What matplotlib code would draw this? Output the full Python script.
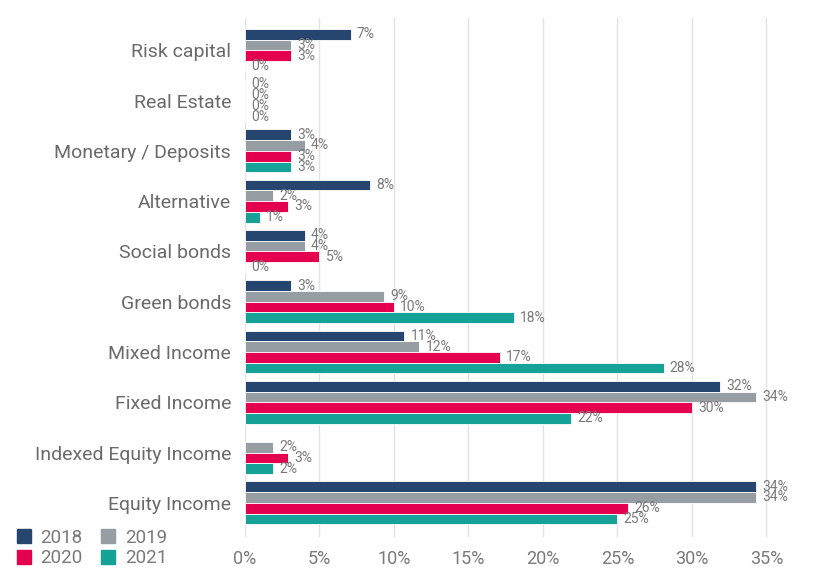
import numpy as np
import matplotlib.pyplot as plt
from matplotlib.patches import Patch

plt.rcParams['font.family'] = ['Roboto', 'DejaVu Sans']

categories = ['Risk capital', 'Real Estate', 'Monetary / Deposits', 'Alternative',
              'Social bonds', 'Green bonds', 'Mixed Income', 'Fixed Income',
              'Indexed Equity Income', 'Equity Income']
years = ['2018', '2019', '2020', '2021']

# share of assets per category (%), NaN = not reported
v2018 = [7.1, 0.0, 3.1, 8.4, 4.0, 3.1, 10.7, 31.9, np.nan, 34.3]
v2019 = [3.1, 0.0, 4.0, 1.9, 4.0, 9.35, 11.7, 34.3, 1.9, 34.3]
v2020 = [3.1, 0.0, 3.1, 2.9, 5.0, 10.0, 17.1, 30.0, 2.9, 25.7]
v2021 = [0.0, 0.0, 3.1, 1.0, 0.0, 18.05, 28.1, 21.9, 1.9, 25.0]
series = [v2018, v2019, v2020, v2021]

colors = ['#27466f', '#969ea4', '#e4004f', '#16a297']
label_col = '#7a7a7a'

fig = plt.figure(figsize=(8.24, 5.69), dpi=100)
ax = fig.add_axes([0.2973, 0.0562, 0.687, 0.912])

y = np.arange(len(categories))
h = 0.213
for k, (vals, col) in enumerate(zip(series, colors)):
    pos = y + (k - 1.5) * h
    for yy, v in zip(pos, vals):
        if np.isnan(v):
            continue
        ax.barh(yy, v, height=h, color=col, edgecolor='white', linewidth=0.6, zorder=3)
        ax.annotate(f'{v:.0f}%', (v, yy), xytext=(4.5, 0), textcoords='offset points',
                    ha='left', va='center', fontsize=10, color=label_col,
                    annotation_clip=False, zorder=4)

ax.set_xlim(0, 38)
ax.set_ylim(9.68, -0.64)
ax.set_xticks(np.arange(0, 36, 5))
ax.set_xticklabels([f'{t}%' for t in range(0, 36, 5)], fontsize=13, color=label_col)
ax.set_yticks(y)
ax.set_yticklabels(categories, fontsize=14, color='#6a6a6a')
ax.tick_params(axis='both', length=0)
ax.tick_params(axis='y', pad=10)
ax.tick_params(axis='x', pad=9)
ax.grid(axis='x', color='#e3e3e3', linewidth=1, zorder=0)
for s in ax.spines.values():
    s.set_visible(False)

handles = [Patch(color=c) for c in colors]
# column-major fill: 2018/2020 in the first column, 2019/2021 in the second
order = [0, 2, 1, 3]
fig.legend([handles[i] for i in order], [years[i] for i in order], ncol=2,
           loc='lower left', bbox_to_anchor=(0.0, -0.027), frameon=False,
           fontsize=13.5, labelcolor=label_col, handlelength=0.75, handleheight=0.75,
           handletextpad=0.5, columnspacing=1.0, labelspacing=0.15)

fig.savefig('out.png', dpi=100)
